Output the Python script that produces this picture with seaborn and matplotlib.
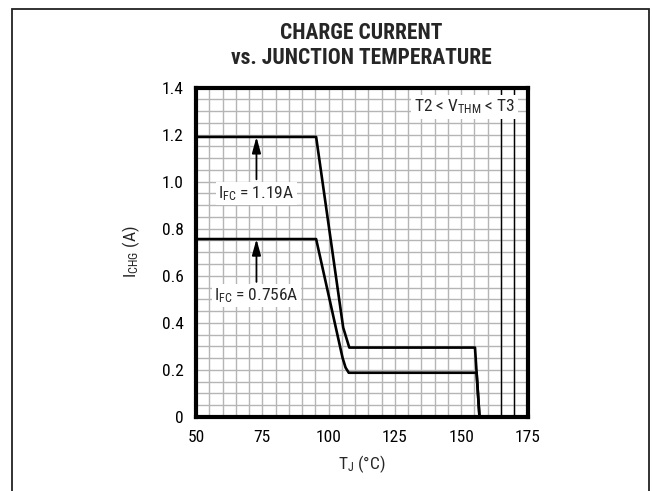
import numpy as np
import pandas as pd
import matplotlib
matplotlib.use("Agg")
import matplotlib.pyplot as plt
from matplotlib.ticker import MultipleLocator, FixedLocator, FuncFormatter
from matplotlib.patches import Rectangle
import seaborn as sns

# ---- data ----
temp_hi = [50, 95.3, 105.5, 107.8, 155.2, 156.9]
ichg_hi = [1.19, 1.19, 0.38, 0.295, 0.295, 0.0]
temp_lo = [50, 95.3, 104.3, 105.3, 106.4, 107.6, 155.8, 156.9]
ichg_lo = [0.756, 0.756, 0.30, 0.25, 0.21, 0.188, 0.188, 0.0]
series_names = ["IFC=1.19A", "IFC=0.756A"]
x_ticks = [50, 75, 100, 125, 150, 175]
y_ticks = [0, 0.2, 0.4, 0.6, 0.8, 1.0, 1.2, 1.4]
dark_gridlines = [165, 170]
arrow_x = [72.8, 72.8]
arrow_from = [1.01, 0.574]
arrow_to = [1.19, 0.756]
label_y = [0.95, 0.517]
label_texts = [r"$\mathregular{I_{FC}}$ = 1.19A", r"$\mathregular{I_{FC}}$ = 0.756A"]

df = pd.DataFrame({
    "T": temp_hi + temp_lo,
    "I": ichg_hi + ichg_lo,
    "series": [series_names[0]] * len(temp_hi) + [series_names[1]] * len(temp_lo),
})

sns.set_style("white")
FONT = ["Roboto Condensed", "DejaVu Sans"]
plt.rcParams["font.family"] = FONT
plt.rcParams["mathtext.fontset"] = "custom"
plt.rcParams["mathtext.rm"] = "Roboto Condensed"
plt.rcParams["mathtext.it"] = "Roboto Condensed"
plt.rcParams["mathtext.bf"] = "Roboto Condensed:bold"

fig = plt.figure(figsize=(6.52, 4.91), dpi=100)
ax = fig.add_axes([196 / 652, 1 - 417 / 491, (527.5 - 196) / 652, (417 - 87.5) / 491])

sns.lineplot(data=df, x="T", y="I", units="series", estimator=None, sort=False,
             color="black", lw=1.9, ax=ax, zorder=5)

ax.set_xlim(50, 175)
ax.set_ylim(0, 1.4)
ax.xaxis.set_major_locator(FixedLocator(x_ticks))
ax.yaxis.set_major_locator(FixedLocator(y_ticks))
ax.xaxis.set_minor_locator(MultipleLocator(5))
ax.yaxis.set_minor_locator(MultipleLocator(0.05))
ax.yaxis.set_major_formatter(FuncFormatter(lambda v, p: "0" if abs(v) < 1e-9 else f"{v:.1f}"))
ax.grid(True, which="both", color="#b5b5b5", lw=1.0, zorder=0)
ax.set_axisbelow(True)
for xv in dark_gridlines:
    ax.axvline(xv, color="black", lw=1.0, zorder=1)

ax.tick_params(axis="both", which="both", length=0, labelsize=12.5, colors="black")
ax.tick_params(axis="y", pad=9)
ax.tick_params(axis="x", pad=9)
for s in ax.spines.values():
    s.set_linewidth(3.0)
    s.set_color("black")

ax.set_xlabel(r"$\mathregular{T_J}$ (°C)", fontsize=12.5, labelpad=6)
ax.set_ylabel(r"$\mathregular{I_{CHG}}$ (A)", fontsize=12.5, labelpad=14)

for xv, y0, y1, ly, txt in zip(arrow_x, arrow_from, arrow_to, label_y, label_texts):
    ax.annotate("", xy=(xv, y1), xytext=(xv, y0),
                arrowprops=dict(arrowstyle="-|>,head_length=0.8,head_width=0.22",
                                mutation_scale=12, color="black", lw=1.3,
                                shrinkA=0, shrinkB=0), zorder=6)
    ax.text(xv, ly, txt, ha="center", va="center", fontsize=12.5, zorder=7,
            bbox=dict(facecolor="white", edgecolor="none", pad=1.5))

ax.text(151.2, 1.317, r"T2 < $\mathregular{V_{THM}}$ < T3", ha="center", va="center",
        fontsize=12.5, zorder=7, bbox=dict(facecolor="white", edgecolor="none", pad=2))

fig.text(361.5 / 652, 1 - 33 / 491, "CHARGE CURRENT", ha="center", va="center",
         fontsize=15.5, fontweight="black")
fig.text(361.5 / 652, 1 - 58 / 491, "vs. JUNCTION TEMPERATURE", ha="center", va="center",
         fontsize=15.5, fontweight="black")

fig.add_artist(Rectangle((12 / 652, -0.1), (649 - 12) / 652, 1 - 9 / 491 + 0.1,
                         transform=fig.transFigure, fill=False, edgecolor="#222222",
                         lw=1.3, clip_on=False))

fig.savefig("out.png", dpi=100)
